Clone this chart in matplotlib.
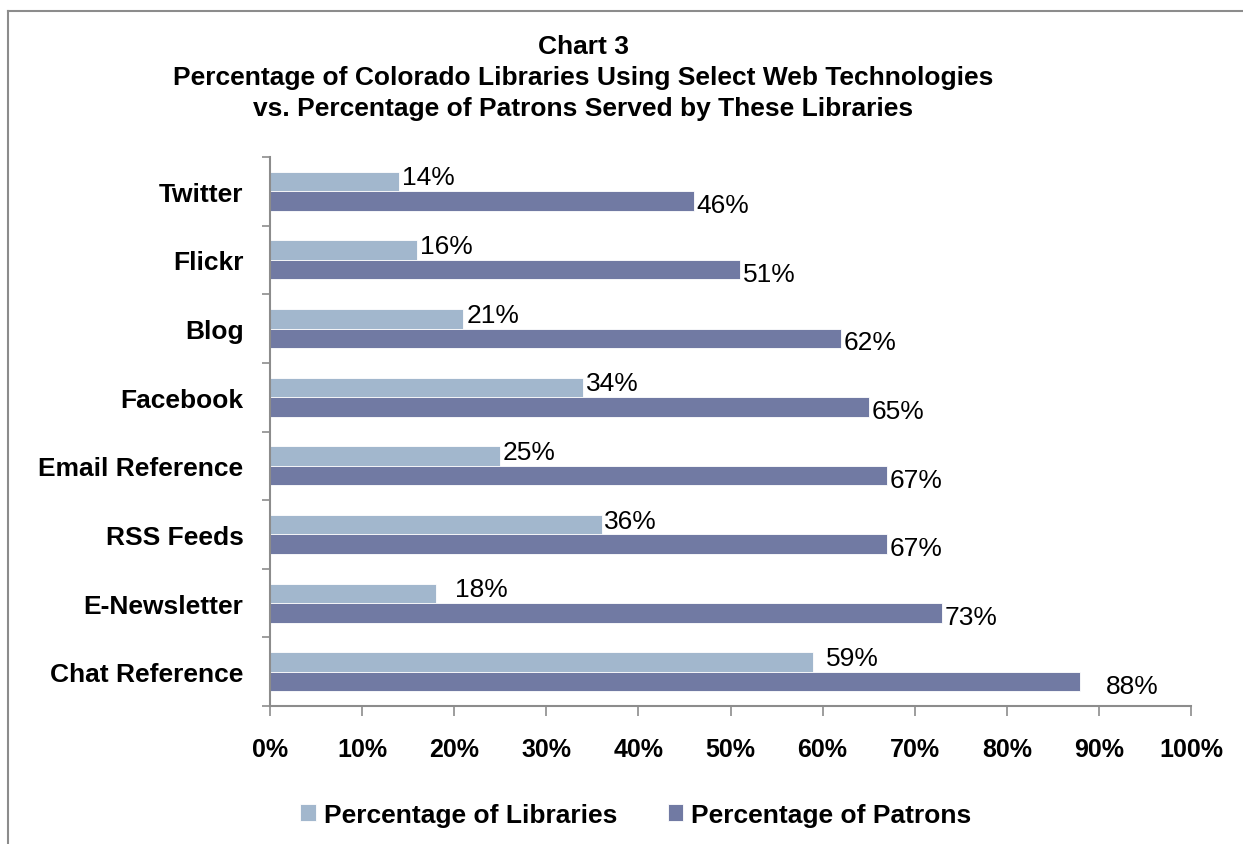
#!/usr/bin/env python3

import matplotlib
matplotlib.use('Agg')
import matplotlib.pyplot as plt
from matplotlib.lines import Line2D
import numpy as np

# data, bottom to top as drawn
categories = ["Chat Reference", "E-Newsletter", "RSS Feeds", "Email Reference",
              "Facebook", "Blog", "Flickr", "Twitter"]
libraries = [59, 18, 36, 25, 34, 21, 16, 14]
patrons = [88, 73, 67, 67, 65, 62, 51, 46]
x_ticks = list(range(0, 101, 10))
title = ("Chart 3\nPercentage of Colorado Libraries Using Select Web Technologies\n"
         "vs. Percentage of Patrons Served by These Libraries")

LIGHT = '#A2B7CD'
DARK = '#717AA3'
GREY = '#8C8C8C'

plt.rcParams['font.family'] = ['Liberation Sans', 'DejaVu Sans']

fig = plt.figure(figsize=(12.43, 8.45), dpi=100)
ax = fig.add_axes([270 / 1243, 1 - 707 / 845, (1191 - 270) / 1243, (707 - 158) / 845])

# outer chart border (top and left visible)
fig.add_artist(Line2D([8 / 1243, 8 / 1243], [0, 1 - 12 / 845], color=GREY, lw=1.5))
fig.add_artist(Line2D([8 / 1243, 1], [1 - 12 / 845, 1 - 12 / 845], color=GREY, lw=1.5))

y = np.arange(len(categories))
h = 0.284
ax.barh(y + h / 2, libraries, height=h, color=LIGHT, edgecolor='white', linewidth=0.6,
        label="Percentage of Libraries")
ax.barh(y - h / 2, patrons, height=h, color=DARK, edgecolor='white', linewidth=0.6,
        label="Percentage of Patrons")

# data labels (a couple pushed further right, as in the source)
lib_off = [9, 14, 2, 2, 2, 2, 2, 2]
pat_off = [18, 2, 2, 2, 2, 2, 2, 2]
for yi, v, o in zip(y, libraries, lib_off):
    ax.annotate(f"{v}%", (v, yi + h / 2 + 0.06), xytext=(o, 0), textcoords='offset points',
                ha='left', va='center', fontsize=19)
for yi, v, o in zip(y, patrons, pat_off):
    ax.annotate(f"{v}%", (v, yi - h / 2 - 0.06), xytext=(o, 0), textcoords='offset points',
                ha='left', va='center', fontsize=19)

ax.set_xlim(0, 100)
ax.set_ylim(-0.5, len(categories) - 0.5)
ax.set_xticks(x_ticks)
ax.set_xticklabels([f"{t}%" for t in x_ticks], fontsize=18, fontweight='bold')
ax.set_yticks(y)
ax.set_yticklabels(categories, fontsize=19, fontweight='bold')
ax.tick_params(axis='y', length=0, pad=19)
ax.set_yticks(np.arange(-0.5, len(categories), 1), minor=True)
ax.tick_params(axis='y', which='minor', length=6, width=1.2, color=GREY)
ax.tick_params(axis='x', length=7, width=1.2, color=GREY, pad=15)

for s in ['top', 'right']:
    ax.spines[s].set_visible(False)
for s in ['left', 'bottom']:
    ax.spines[s].set_color(GREY)
    ax.spines[s].set_linewidth(1.5)

fig.text(583 / 1243, 1 - 35 / 845, title, ha='center', va='top', fontsize=19,
         fontweight='bold', linespacing=1.36)

handles, labels = ax.get_legend_handles_labels()
fig.legend(handles, labels, loc='center', bbox_to_anchor=(636 / 1243, 1 - 816 / 845),
           ncol=2, frameon=False, prop={'size': 19, 'weight': 'bold'},
           handlelength=0.6, handleheight=0.6, handletextpad=0.3, columnspacing=1.9)

fig.savefig('out.png', dpi=100)
